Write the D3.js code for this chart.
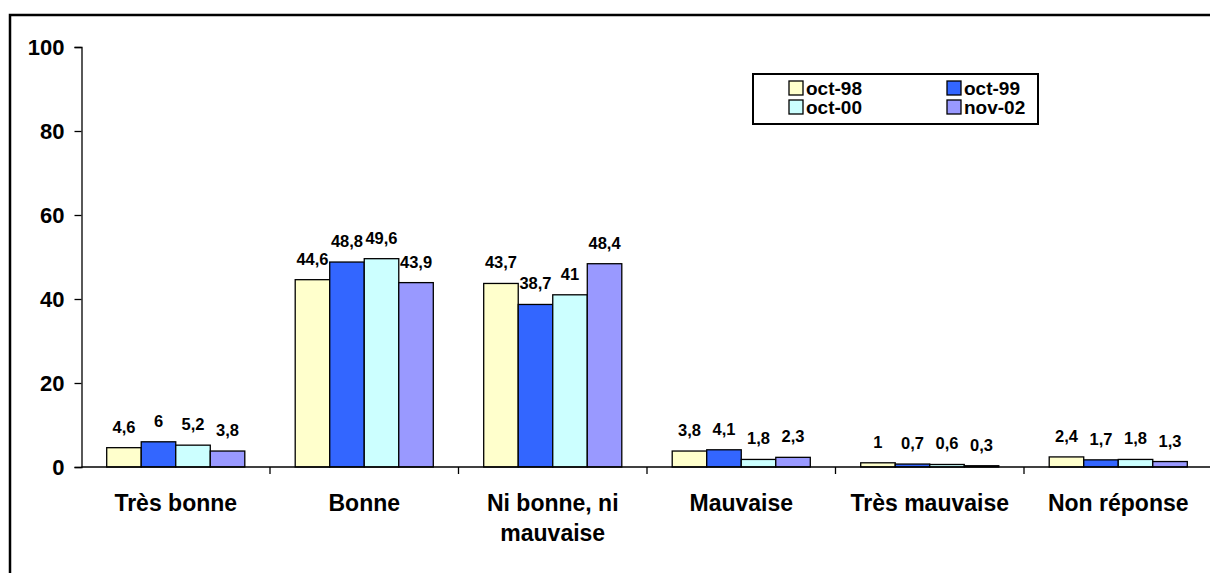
<!DOCTYPE html>
<html>
<head>
<meta charset="utf-8">
<script src="https://cdn.jsdelivr.net/npm/d3@7"></script>
<style>
  body { margin: 0; background: #fff; }
  svg { display: block; font-family: Arial, "Liberation Sans", sans-serif; font-weight: bold; }
</style>
</head>
<body>
<div id="chart"></div>
<script>
// Categories, series and tick labels
var categories = ["Très bonne", "Bonne", "Ni bonne, ni mauvaise", "Mauvaise", "Très mauvaise", "Non réponse"];
var categoryLines = [["Très bonne"], ["Bonne"], ["Ni bonne, ni", "mauvaise"], ["Mauvaise"], ["Très mauvaise"], ["Non réponse"]];
var seriesNames = ["oct-98", "oct-99", "oct-00", "nov-02"];
var oct98 = [4.6, 44.6, 43.7, 3.8, 1, 2.4];
var oct99 = [6, 48.8, 38.7, 4.1, 0.7, 1.7];
var oct00 = [5.2, 49.6, 41, 1.8, 0.6, 1.8];
var nov02 = [3.8, 43.9, 48.4, 2.3, 0.3, 1.3];
var yTicks = [0, 20, 40, 60, 80, 100];

function init() {
    var w = 1210, h = 573;
    var colors = ["#FFFFCC", "#3366FF", "#CCFFFF", "#9999FF"];
    var values = [oct98, oct99, oct00, nov02];

    var left = 81.5, right = 1212.5, top = 47, bottom = 467;

    var svg = d3.select("#chart").append("svg")
        .attr("width", w)
        .attr("height", h);

    // outer frame (right and bottom edges fall outside the picture)
    svg.append("rect")
        .attr("x", 10).attr("y", 15)
        .attr("width", 1220).attr("height", 600)
        .attr("fill", "none")
        .attr("stroke", "#000")
        .attr("stroke-width", 2.5);

    var x0 = d3.scaleBand()
        .domain(categories)
        .range([left, right]);

    var x1 = d3.scaleBand()
        .domain(seriesNames)
        .range([0, x0.bandwidth()])
        .paddingOuter(0.73)
        .paddingInner(0);

    var y = d3.scaleLinear()
        .domain([0, 100])
        .range([bottom, top]);

    // y axis
    var yAxis = svg.append("g")
        .attr("transform", "translate(" + left + ",0)")
        .call(d3.axisLeft(y).tickValues(yTicks).tickSize(7).tickPadding(10));
    yAxis.select(".domain").attr("stroke", "#000").attr("stroke-width", 1.3);
    yAxis.selectAll(".tick line").attr("stroke", "#000").attr("stroke-width", 1.3);
    yAxis.selectAll(".tick text")
        .attr("font-size", 22)
        .attr("font-weight", "bold")
        .attr("font-family", "Arial, 'Liberation Sans', sans-serif")
        .attr("fill", "#000");

    // bars
    var groups = svg.selectAll("g.cat")
        .data(categories)
        .enter()
        .append("g")
        .attr("class", "cat")
        .attr("transform", function (d) { return "translate(" + x0(d) + ",0)"; });

    groups.selectAll("rect")
        .data(function (d, i) {
            return seriesNames.map(function (s, j) { return { s: s, v: values[j][i], j: j }; });
        })
        .enter()
        .append("rect")
        .attr("x", function (d) { return x1(d.s); })
        .attr("y", function (d) { return y(d.v); })
        .attr("width", x1.bandwidth())
        .attr("height", function (d) { return y(0) - y(d.v); })
        .attr("fill", function (d) { return colors[d.j]; })
        .attr("stroke", "#000")
        .attr("stroke-width", 1.3);

    // value labels
    groups.selectAll("text.val")
        .data(function (d, i) {
            return seriesNames.map(function (s, j) { return { s: s, v: values[j][i], j: j }; });
        })
        .enter()
        .append("text")
        .attr("class", "val")
        .attr("x", function (d) { return x1(d.s) + x1.bandwidth() / 2; })
        .attr("y", function (d) { return y(d.v) - 15; })
        .attr("text-anchor", "middle")
        .attr("font-size", 16.5)
        .text(function (d) { return String(d.v).replace(".", ","); });

    // x axis line and ticks between categories
    svg.append("line")
        .attr("x1", left).attr("x2", right)
        .attr("y1", y(0)).attr("y2", y(0))
        .attr("stroke", "#000").attr("stroke-width", 1.3);

    svg.selectAll("line.xtick")
        .data(categories)
        .enter()
        .append("line")
        .attr("class", "xtick")
        .attr("x1", function (d) { return x0(d) + x0.bandwidth(); })
        .attr("x2", function (d) { return x0(d) + x0.bandwidth(); })
        .attr("y1", y(0)).attr("y2", y(0) + 7)
        .attr("stroke", "#000").attr("stroke-width", 1.3);

    // category labels
    var catText = svg.selectAll("text.cat")
        .data(categories)
        .enter()
        .append("text")
        .attr("class", "cat")
        .attr("text-anchor", "middle")
        .attr("font-size", 23)
        .attr("x", function (d) { return x0(d) + x0.bandwidth() / 2; })
        .attr("y", 511);

    catText.selectAll("tspan")
        .data(function (d, i) { return categoryLines[i]; })
        .enter()
        .append("tspan")
        .attr("x", function () { var c = d3.select(this.parentNode).datum(); return x0(c) + x0.bandwidth() / 2; })
        .attr("dy", function (d, i) { return i === 0 ? 0 : 30; })
        .text(function (d) { return d; });

    // legend
    var legend = svg.append("g").attr("transform", "translate(753,74)");
    legend.append("rect")
        .attr("width", 285).attr("height", 50)
        .attr("fill", "#fff")
        .attr("stroke", "#000")
        .attr("stroke-width", 2);

    var items = legend.selectAll("g.item")
        .data(seriesNames)
        .enter()
        .append("g")
        .attr("class", "item")
        .attr("transform", function (d, i) {
            return "translate(" + (i % 2 === 0 ? 36 : 194) + "," + (i < 2 ? 7 : 26) + ")";
        });

    items.append("rect")
        .attr("width", 14).attr("height", 14)
        .attr("fill", function (d, i) { return colors[i]; })
        .attr("stroke", "#000")
        .attr("stroke-width", 1.3);

    items.append("text")
        .attr("x", 17)
        .attr("y", 14)
        .attr("font-size", 19)
        .text(function (d) { return d; });
}

window.onload = init;
</script>
</body>
</html>
